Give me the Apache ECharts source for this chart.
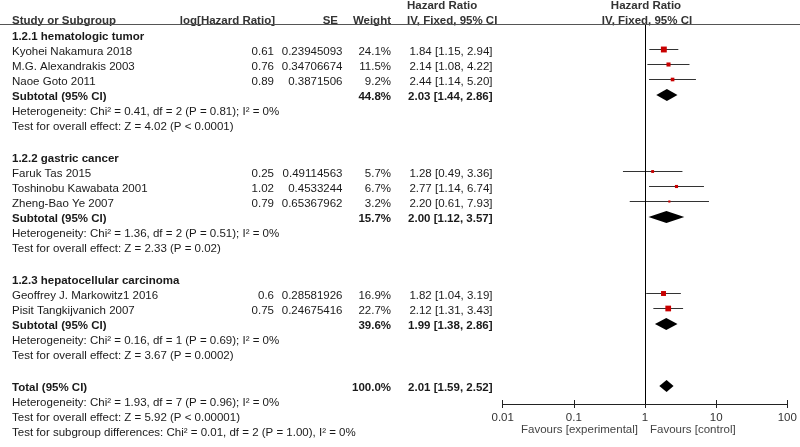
<!DOCTYPE html>
<html>
<head>
<meta charset="utf-8">
<script src="https://cdn.jsdelivr.net/npm/echarts@6/dist/echarts.min.js"></script>
<style>
html,body{margin:0;padding:0;background:#fff;}
#chart{width:800px;height:447px;}
</style>
</head>
<body>
<div id="chart"></div>
<script>
// ---------------- DATA ----------------
const groupNames = ['1.2.1 hematologic tumor', '1.2.2 gastric cancer', '1.2.3 hepatocellular carcinoma'];
const studyNames = ['Kyohei Nakamura 2018', 'M.G. Alexandrakis 2003', 'Naoe Goto 2011',
  'Faruk Tas 2015', 'Toshinobu Kawabata 2001', 'Zheng-Bao Ye 2007',
  'Geoffrey J. Markowitz1 2016', 'Pisit Tangkijvanich 2007'];
const studyGroup = [0, 0, 0, 1, 1, 1, 2, 2];
const logHR = ['0.61', '0.76', '0.89', '0.25', '1.02', '0.79', '0.6', '0.75'];
const seVals = ['0.23945093', '0.34706674', '0.3871506', '0.49114563', '0.4533244', '0.65367962', '0.28581926', '0.24675416'];
const weights = [24.1, 11.5, 9.2, 5.7, 6.7, 3.2, 16.9, 22.7];
const hr = [1.84, 2.14, 2.44, 1.28, 2.77, 2.20, 1.82, 2.12];
const hrLo = [1.15, 1.08, 1.14, 0.49, 1.14, 0.61, 1.04, 1.31];
const hrHi = [2.94, 4.22, 5.20, 3.36, 6.74, 7.93, 3.19, 3.43];

const subWeight = [44.8, 15.7, 39.6];
const subHR = [2.03, 2.00, 1.99];
const subLo = [1.44, 1.12, 1.38];
const subHi = [2.86, 3.57, 2.86];
const subHet = ['Heterogeneity: Chi² = 0.41, df = 2 (P = 0.81); I² = 0%',
  'Heterogeneity: Chi² = 1.36, df = 2 (P = 0.51); I² = 0%',
  'Heterogeneity: Chi² = 0.16, df = 1 (P = 0.69); I² = 0%'];
const subTest = ['Test for overall effect: Z = 4.02 (P < 0.0001)',
  'Test for overall effect: Z = 2.33 (P = 0.02)',
  'Test for overall effect: Z = 3.67 (P = 0.0002)'];

const totalWeight = 100.0, totalHR = 2.01, totalLo = 1.59, totalHi = 2.52;
const totalLines = ['Heterogeneity: Chi² = 1.93, df = 7 (P = 0.96); I² = 0%',
  'Test for overall effect: Z = 5.92 (P < 0.00001)',
  'Test for subgroup differences: Chi² = 0.01, df = 2 (P = 1.00), I² = 0%'];

const axisTicks = [0.01, 0.1, 1, 10, 100];
const favoursLeft = 'Favours [experimental]';
const favoursRight = 'Favours [control]';

// ---------------- LAYOUT ----------------
const W = 800, H = 447;
const ROW0 = 37, ROWH = 15;           // pixel centre of row 0, row pitch
const BLANK_UNITS = 17 / 15;          // a blank separator row is slightly taller
const PLOT_L = 502.7, PLOT_R = 787.3, PLOT_T = 25, PLOT_B = 404;
const COL_NAME = 12, COL_LOG = 274, COL_SE = 342.5, COL_W = 391, COL_CI = 492.5, COL_CI_HEAD = 407, COL_PLOT_HEAD = 646;
const FONT = '"Liberation Sans", Arial, sans-serif';
const FS = '11.5px ';
const TXT = '#1a1a1a';

const rowOf = px => (px - ROW0) / ROWH;

// ---------------- BUILD ROWS ----------------
const cells = [];
const marks = [];
function cell(x, row, text, align, bold, color) {
  cells.push({x, row, text, align, bold: !!bold, color: color || TXT});
}
const ciText = (a, l, h) => a.toFixed(2) + ' [' + l.toFixed(2) + ', ' + h.toFixed(2) + ']';

// headers
const HEAD1 = rowOf(5.5), HEAD2 = rowOf(21);
cell(COL_CI_HEAD, HEAD1, 'Hazard Ratio', 'left', true, '#333');
cell(COL_PLOT_HEAD, HEAD1, 'Hazard Ratio', 'center', true, '#333');
cell(COL_NAME, HEAD2, 'Study or Subgroup', 'left', true, '#333');
cell(275, HEAD2, 'log[Hazard Ratio]', 'right', true, '#333');
cell(338, HEAD2, 'SE', 'right', true, '#333');
cell(COL_W, HEAD2, 'Weight', 'right', true, '#333');
cell(COL_CI_HEAD, HEAD2, 'IV, Fixed, 95% CI', 'left', true, '#333');
cell(COL_PLOT_HEAD + 1, HEAD2, 'IV, Fixed, 95% CI', 'center', true, '#333');

let r = 0;
groupNames.forEach((g, gi) => {
  cell(COL_NAME, r, g, 'left', true);
  r++;
  studyNames.forEach((n, si) => {
    if (studyGroup[si] !== gi) return;
    cell(COL_NAME, r, n, 'left');
    cell(COL_LOG, r, logHR[si], 'right');
    cell(COL_SE, r, seVals[si], 'right');
    cell(COL_W, r, weights[si].toFixed(1) + '%', 'right');
    cell(COL_CI, r, ciText(hr[si], hrLo[si], hrHi[si]), 'right');
    marks.push({type: 'study', row: r, hr: hr[si], lo: hrLo[si], hi: hrHi[si], w: weights[si]});
    r++;
  });
  cell(COL_NAME, r, 'Subtotal (95% CI)', 'left', true);
  cell(COL_W, r, subWeight[gi].toFixed(1) + '%', 'right', true);
  cell(COL_CI, r, ciText(subHR[gi], subLo[gi], subHi[gi]), 'right', true);
  marks.push({type: 'diamond', row: r, hr: subHR[gi], lo: subLo[gi], hi: subHi[gi]});
  r++;
  cell(COL_NAME, r, subHet[gi], 'left'); r++;
  cell(COL_NAME, r, subTest[gi], 'left'); r++;
  r += BLANK_UNITS; // blank separator
});
cell(COL_NAME, r, 'Total (95% CI)', 'left', true);
cell(COL_W, r, totalWeight.toFixed(1) + '%', 'right', true);
cell(COL_CI, r, ciText(totalHR, totalLo, totalHi), 'right', true);
marks.push({type: 'diamond', row: r, hr: totalHR, lo: totalLo, hi: totalHi});
r++;
totalLines.forEach(t => { cell(COL_NAME, r, t, 'left'); r++; });
const favRow = rowOf(430);
cell(638, favRow, favoursLeft, 'right', false, '#444');
cell(650, favRow, favoursRight, 'left', false, '#444');

// ---------------- CHART ----------------
const chart = echarts.init(document.getElementById('chart'), null, {renderer: 'canvas'});

const tableSeries = {
  type: 'custom',
  xAxisIndex: 0, yAxisIndex: 0,
  clip: false, silent: true,
  data: cells.map(c => [c.x, c.row]),
  renderItem: function (params, api) {
    const c = cells[params.dataIndex];
    const p = api.coord([api.value(0), api.value(1)]);
    return {
      type: 'text', x: p[0], y: p[1],
      style: {
        text: c.text, fill: c.color,
        font: (c.bold ? 'bold ' : '') + FS + FONT,
        align: c.align, verticalAlign: 'middle'
      }
    };
  },
  markLine: {
    silent: true, symbol: 'none', label: {show: false},
    lineStyle: {color: '#555', width: 1, type: 'solid'},
    data: [{yAxis: rowOf(PLOT_T - 0.5)}]
  }
};

const forestSeries = {
  type: 'custom',
  xAxisIndex: 1, yAxisIndex: 1,
  clip: false, silent: true,
  data: marks.map(m => [m.hr, m.row, m.lo, m.hi]),
  encode: {x: [0, 2, 3], y: 1},
  renderItem: function (params, api) {
    const m = marks[params.dataIndex];
    const pE = api.coord([api.value(0), api.value(1)]);
    const pL = api.coord([api.value(2), api.value(1)]);
    const pH = api.coord([api.value(3), api.value(1)]);
    if (m.type === 'study') {
      const y = Math.round(pE[1] - 3.5) + 0.5;
      const s = Math.max(2, 1.2 * Math.sqrt(m.w));
      return {
        type: 'group',
        children: [
          {type: 'line', shape: {x1: pL[0], y1: y, x2: pH[0], y2: y}, style: {stroke: '#333', lineWidth: 1}},
          {type: 'rect', shape: {x: pE[0] - s / 2, y: y - s / 2, width: s, height: s}, style: {fill: '#c80000'}}
        ]
      };
    }
    const y = pE[1] - 2;
    return {
      type: 'polygon',
      shape: {points: [[pL[0], y], [pE[0], y - 6], [pH[0], y], [pE[0], y + 6]]},
      style: {fill: '#000'}
    };
  },
  markLine: {
    silent: true, symbol: 'none', label: {show: false},
    lineStyle: {color: '#000', width: 1, type: 'solid'},
    data: [{xAxis: 1}]
  }
};

const logAxisBase = {
  type: 'log', logBase: 10, gridIndex: 1,
  min: axisTicks[0], max: axisTicks[axisTicks.length - 1],
  position: 'bottom',
  splitLine: {show: false},
  axisLine: {show: true, onZero: false, lineStyle: {color: '#222', width: 1}}
};

const option = {
  animation: false,
  backgroundColor: '#fff',
  grid: [
    {left: 0, top: 0, width: W, height: H, show: false},
    {left: PLOT_L, top: PLOT_T, width: PLOT_R - PLOT_L, height: PLOT_B - PLOT_T, show: false}
  ],
  xAxis: [
    {type: 'value', gridIndex: 0, min: 0, max: W, show: false},
    Object.assign({}, logAxisBase, {
      axisTick: {show: true, inside: false, length: 4, lineStyle: {color: '#222'}},
      axisLabel: {show: true, margin: 8, fontSize: 11.5, fontFamily: FONT, color: '#333',
        formatter: v => String(v)}
    }),
    Object.assign({}, logAxisBase, {
      axisTick: {show: true, inside: true, length: 4, lineStyle: {color: '#222'}},
      axisLabel: {show: false}
    })
  ],
  yAxis: [
    {type: 'value', gridIndex: 0, inverse: true, min: rowOf(0), max: rowOf(H), show: false},
    {type: 'value', gridIndex: 1, inverse: true, min: rowOf(PLOT_T), max: rowOf(PLOT_B), show: false}
  ],
  series: [tableSeries, forestSeries]
};
chart.setOption(option);
</script>
</body>
</html>
